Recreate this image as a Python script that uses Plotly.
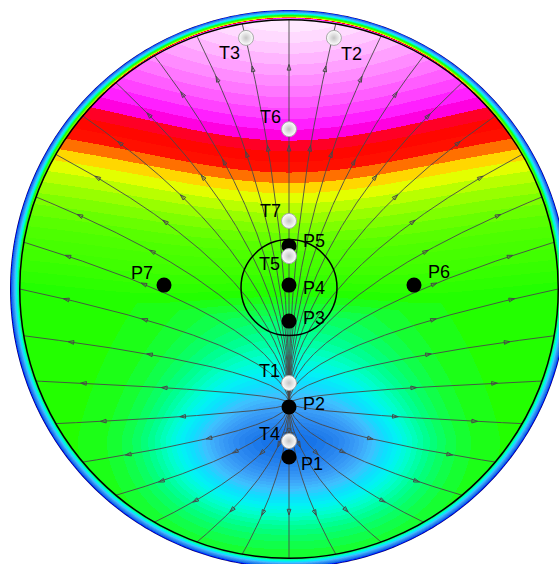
import numpy as np
import plotly.graph_objects as go

# ---------------- data ----------------
# electrode positions on the unit disk (centre at origin)
p_names = ["P1", "P2", "P3", "P4", "P5", "P6", "P7"]
p_x = [0.0, 0.0, 0.0, 0.0, 0.0, 0.448, -0.448]
p_y = [-0.602, -0.423, -0.115, 0.014, 0.154, 0.014, 0.014]

# sensor positions
t_names = ["T1", "T2", "T3", "T4", "T5", "T6", "T7"]
t_x = [0.0, 0.161, -0.154, 0.0, 0.0, 0.0, 0.0]
t_y = [-0.337, 0.900, 0.900, -0.545, 0.118, 0.573, 0.244]

# label offsets in pixels (right / up)
p_label_dx = [23, 25, 25, 25, 25, 25, -22]
p_label_dy = [-7, 3, 3, -3, 5, 13, 12]
t_label_dx = [-20, 18, -17, -20, -20, -19, -19]
t_label_dy = [12, -16, -15, 7, -8, 12, 10]

# region-of-interest circle
roi_cx, roi_cy, roi_r = 0.0, 0.005, 0.172

# scalar field model parameters
top_focus_y = 1.0
top_x_scale = 0.25
top_wing_height, top_wing_width = 0.0975, 0.55
top_reach = 0.12
well_cy = -0.54
well_ax, well_px = 0.405, 2.3
well_ay_up, well_py_up = 0.265, 1.3
well_ay_dn, well_py_dn = 0.25, 2.0
boundary_r = 0.965
edge_value = -0.12
band_step = 0.0175

# flow-line model parameters
src_y = -0.41
c_up, c_dn = 0.5, 0.55
n_lines = 36

# colours of the upper (high) part, keyed by height on the centre line
top_keys = [-0.12, 0.0, 0.1, 0.176, 0.247, 0.30, 0.335, 0.36, 0.38, 0.405, 0.43,
            0.50, 0.525, 0.555, 0.624, 0.695, 0.785, 0.875, 0.964, 1.0]
top_colors = ["#22ff00", "#40ff00", "#50ff00", "#70ff00", "#a0ff00", "#d0ff00",
              "#ffff00", "#ffc800", "#ff9000", "#ff5000", "#ff1000", "#ff0000",
              "#ff0060", "#ff00ff", "#ff40ff", "#ff70ff", "#ffa0ff", "#ffd0ff",
              "#fff0ff", "#fff6ff"]
# colours of the lower well, keyed by well depth (1 = deepest)
well_keys = [1.0, 0.85, 0.72, 0.6, 0.5, 0.4, 0.3, 0.2, 0.1]
well_colors = ["#1470e6", "#2a88f0", "#3ca0f8", "#40c0ff", "#10dcff", "#00f4f4",
               "#00ffc8", "#00ff8c", "#10ff48"]
# colours of the outer rim (below the well minimum)
rim_values = [-0.12, -0.08, -0.04]
rim_colors = ["#000040", "#0000c8", "#0040ff"]


def top_level(y_eq):
    return 0.5 + 0.5 * (y_eq + top_reach) / (1.0 + top_reach)


def field(X, Y):
    D = (np.sqrt((top_x_scale * X) ** 2 + (top_focus_y - Y) ** 2)
         + top_wing_height * (1.0 - np.exp(-(X / top_wing_width) ** 2)))
    A = np.clip((1.0 + top_reach - D) / (1.0 + top_reach), 0.0, 1.0)
    dy = Y - well_cy
    gy = np.where(dy > 0,
                  (np.abs(dy) / well_ay_up) ** well_py_up,
                  (np.abs(dy) / well_ay_dn) ** well_py_dn)
    B = np.exp(-((np.abs(X) / well_ax) ** well_px + gy))
    v = 0.5 + 0.5 * A - 0.5 * B
    R = np.hypot(X, Y)
    s = np.clip((R - boundary_r) / (1.0 - boundary_r), 0.0, 1.0)
    return v + (edge_value - v) * s


def flow(x, y):
    c = c_up if y > src_y else c_dn
    return 2.0 * x, 2.0 * c * (y - src_y)


def trace_line(theta, h=0.005):
    x, y = boundary_r * np.cos(theta), boundary_r * np.sin(theta)
    pts = [(x, y)]
    for _ in range(4000):
        if np.hypot(x, y - src_y) < h:
            break
        gx, gy = flow(x, y)
        n = np.hypot(gx, gy)
        xm, ym = x - 0.5 * h * gx / n, y - 0.5 * h * gy / n
        gx, gy = flow(xm, ym)
        n = np.hypot(gx, gy)
        x, y = x - h * gx / n, y - h * gy / n
        pts.append((x, y))
    pts.append((0.0, src_y))
    return np.array(pts[::-1])


# ---------------- banded colour table ----------------
stops = list(zip(rim_values, rim_colors))
stops += [(0.5 - 0.5 * b, c) for b, c in zip(well_keys, well_colors)]
stops += [(top_level(k), c) for k, c in zip(top_keys, top_colors)]
stop_v = np.array([s[0] for s in stops])
stop_rgb = np.array([[int(c[i:i + 2], 16) for i in (1, 3, 5)] for _, c in stops], float)
vmin, vmax = stop_v[0], stop_v[-1]
n_bands = int(np.ceil((vmax - vmin) / band_step))
band_mid = vmin + (np.arange(n_bands) + 0.5) * band_step
band_rgb = np.stack([np.interp(band_mid, stop_v, stop_rgb[:, i]) for i in range(3)], 1)
band_hex = ["#%02x%02x%02x" % tuple(int(round(c)) for c in rgb) for rgb in band_rgb]
colorscale = [[k / (n_bands - 1), c] for k, c in enumerate(band_hex)]

# ---------------- field grid (one cell per screen pixel) ----------------
W_PX, H_PX, CX, CY, RPX = 559, 564, 289.0, 289.0, 279.0
gx = (np.arange(W_PX) + 0.5 - CX) / RPX
gy = (CY - (np.arange(H_PX) + 0.5)) / RPX
GX, GY = np.meshgrid(gx, gy)
V = field(GX, GY)
band = np.clip(np.floor((V - vmin) / band_step), 0, n_bands - 1).astype(int)

fig = go.Figure()
fig.add_trace(go.Heatmap(
    x=np.round(gx, 5), y=np.round(gy, 5), z=band, colorscale=colorscale,
    zmin=0, zmax=n_bands - 1, zsmooth=False, showscale=False, hoverinfo="skip"))

# ---------------- flow lines ----------------
lx, ly = [], []
ax_, ay_ = [], []
for k in range(n_lines):
    th = np.deg2rad(90 + 360.0 / n_lines * k)
    P = trace_line(th)
    lx += list(np.round(P[:, 0], 4)) + [None]
    ly += list(np.round(P[:, 1], 4)) + [None]
    seg = np.hypot(np.diff(P[:, 0]), np.diff(P[:, 1]))
    cum = np.concatenate([[0], np.cumsum(seg)])
    L = cum[-1]
    for s_end in (0.16, 0.45):
        target = L - s_end
        if target < 0.08:
            continue
        i = int(np.searchsorted(cum, target))
        i = max(i, 2)
        ax_ += [P[i - 2, 0], P[i, 0], None]
        ay_ += [P[i - 2, 1], P[i, 1], None]

line_grey = "#484848"
fig.add_trace(go.Scatter(x=lx, y=ly, mode="lines",
                         line=dict(color=line_grey, width=0.9),
                         hoverinfo="skip", showlegend=False))
n_ar = len(ax_) // 3
fig.add_trace(go.Scatter(
    x=ax_, y=ay_, mode="markers", hoverinfo="skip", showlegend=False,
    marker=dict(symbol="arrow-open", angleref="previous",
                size=[0, 6, 0] * n_ar, opacity=[0, 1, 0] * n_ar,
                color=line_grey, line=dict(color=line_grey, width=1))))

# ---------------- markers ----------------
fig.add_trace(go.Scatter(x=p_x, y=p_y, mode="markers", hoverinfo="skip",
                         showlegend=False,
                         marker=dict(size=15, color="black")))
fig.add_trace(go.Scatter(x=t_x, y=t_y, mode="markers", hoverinfo="skip",
                         showlegend=False,
                         marker=dict(size=15, color="white",
                                     gradient=dict(type="radial", color="#c4c4c4"),
                                     line=dict(color="#a8a8a8", width=1))))

annotations = []
for names, xs, ys, dxs, dys in ((p_names, p_x, p_y, p_label_dx, p_label_dy),
                                (t_names, t_x, t_y, t_label_dx, t_label_dy)):
    for n, x, y, dx, dy in zip(names, xs, ys, dxs, dys):
        annotations.append(dict(x=x, y=y, text=n, showarrow=False,
                                xshift=dx, yshift=dy,
                                font=dict(family="Liberation Sans, Arial", size=18,
                                          color="black")))

# ---------------- shapes ----------------
ang = np.linspace(0, 2 * np.pi, 361)
circ = " ".join(f"L{np.cos(a):.4f},{np.sin(a):.4f}" for a in ang[1:])
mask_path = (f"M-1.5,-1.5 L1.5,-1.5 L1.5,1.5 L-1.5,1.5 Z "
             f"M1.0,0.0 {circ} Z")
shapes = [
    dict(type="path", path=mask_path, fillcolor="white", fillrule="evenodd",
         line=dict(width=0), layer="above"),
    dict(type="circle", x0=-boundary_r, y0=-boundary_r, x1=boundary_r, y1=boundary_r,
         line=dict(color="black", width=1.5), layer="above"),
    dict(type="circle", x0=roi_cx - roi_r, y0=roi_cy - roi_r,
         x1=roi_cx + roi_r, y1=roi_cy + roi_r,
         line=dict(color="black", width=1.5), layer="above"),
]

fig.update_layout(
    width=W_PX, height=H_PX, margin=dict(l=0, r=0, t=0, b=0),
    paper_bgcolor="white", plot_bgcolor="white",
    xaxis=dict(range=[-CX / RPX, (W_PX - CX) / RPX], visible=False, fixedrange=True),
    yaxis=dict(range=[(CY - H_PX) / RPX, CY / RPX], visible=False, fixedrange=True),
    shapes=shapes, annotations=annotations, showlegend=False)

fig.write_html("out.html")
